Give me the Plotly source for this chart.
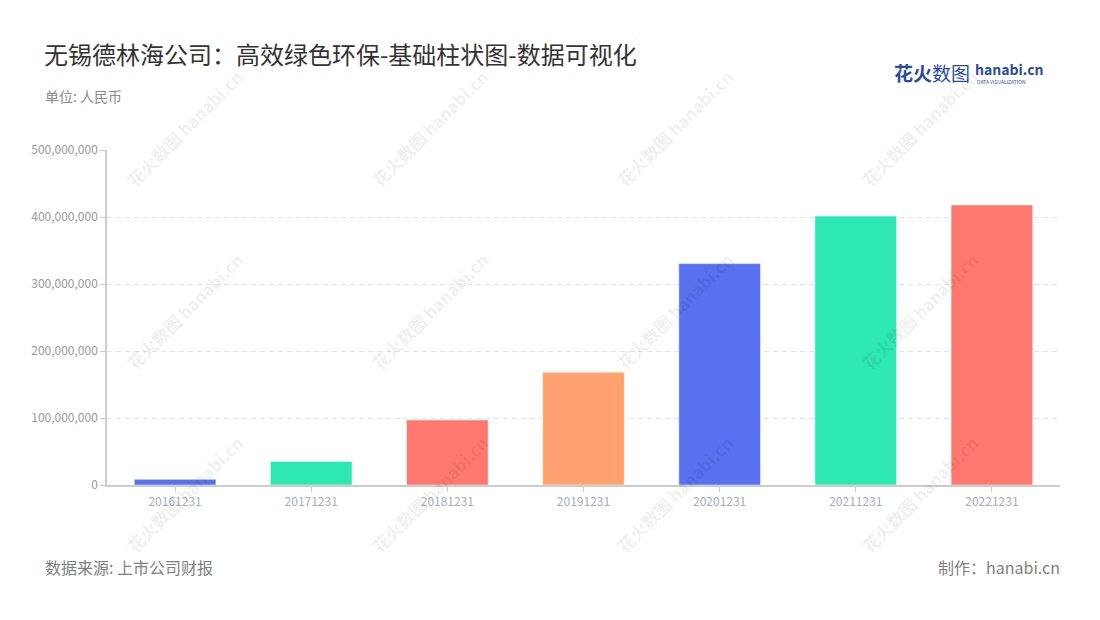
import plotly.graph_objects as go

categories = ["20161231", "20171231", "20181231", "20191231", "20201231", "20211231", "20221231"]
values = [8400000, 35200000, 97200000, 168400000, 330500000, 401500000, 418000000]
bar_colors = ["#5871EE", "#2EE8B3", "#FF7870", "#FFA26F", "#5871EE", "#2EE8B3", "#FF7870"]
y_ticks = [0, 100000000, 200000000, 300000000, 400000000, 500000000]
y_tick_labels = ["0", "100,000,000", "200,000,000", "300,000,000", "400,000,000", "500,000,000"]

title_text = "无锡德林海公司：高效绿色环保-基础柱状图-数据可视化"
unit_text = "单位: 人民币"
source_text = "数据来源: 上市公司财报"
maker_text = "制作：hanabi.cn"

# page offset of the figure (default body margin)
OX, OY = 8, 8
W, H = 1100 - OX, 620 - OY
PL, PR, PT, PB = 107, 1060, 150, 485  # plot area in page pixels
ML, MR, MT, MB = PL - OX, W - (PR - OX), PT - OY, H - (PB - OY)
PW, PH = PR - PL, PB - PT
FONT = "Noto Sans CJK SC, Noto Sans, sans-serif"


def px(x, y):
    return (x - PL) / PW, (PB - y) / PH


fig = go.Figure()
fig.add_trace(go.Bar(
    x=categories, y=values,
    marker=dict(color=bar_colors, line=dict(color="rgba(255,255,255,0.5)", width=1)),
    hoverinfo="x+y",
))

annotations = []


def txt(text, x, y, size, color, xanchor="left", yanchor="middle", angle=0, family=FONT):
    ax, ay = px(x, y)
    annotations.append(dict(
        text=text, x=ax, y=ay, xref="paper", yref="paper", showarrow=False,
        xanchor=xanchor, yanchor=yanchor, textangle=angle,
        font=dict(family=family, size=size, color=color),
    ))


# watermarks
for cx in [184, 429, 674, 919]:
    for cy in [128, 311, 494]:
        txt("<b>花火数图</b> <b>hanabi.cn</b>", cx, cy, 17, "rgba(0,0,0,0.075)",
            xanchor="center", angle=-45)

txt(title_text, 42, 53, 24, "#333333")
txt(unit_text, 43, 96, 14, "#8a8a8a")
txt(source_text, 43, 567, 16, "#808080")
txt(maker_text, 1062, 567, 16, "#808080", xanchor="right")

# logo
txt("<b>花火</b>数图", 892, 72, 19, "#2A4B9E")
txt("<b>hanabi.cn</b>", 973, 69, 14, "#2A4B9E")
txt("DATA VISUALIZATION", 975, 81, 5, "#2A4B9E")

fig.update_layout(
    width=W, height=H,
    margin=dict(l=ML, r=MR, t=MT, b=MB, pad=0),
    paper_bgcolor="white", plot_bgcolor="white",
    showlegend=False,
    bargap=0.4,
    font=dict(family=FONT),
    annotations=annotations,
    xaxis=dict(
        type="category", showgrid=False, showline=True, linecolor="#cccccc", linewidth=1.5,
        ticks="outside", ticklen=5, tickcolor="#cccccc", tickwidth=1,
        tickfont=dict(family=FONT, size=12, color="#a6abbd"),
        fixedrange=True,
    ),
    yaxis=dict(
        range=[0, 500000000], tickvals=y_ticks, ticktext=y_tick_labels,
        showgrid=True, gridcolor="#e3e3e3", griddash="5px,4px", gridwidth=1,
        showline=True, linecolor="#cccccc", linewidth=1.5,
        ticks="outside", ticklen=5, tickcolor="#cccccc",
        tickfont=dict(family=FONT, size=12, color="#9a9a9a"),
        zeroline=False, fixedrange=True,
    ),
)

fig.write_html("out.html")
